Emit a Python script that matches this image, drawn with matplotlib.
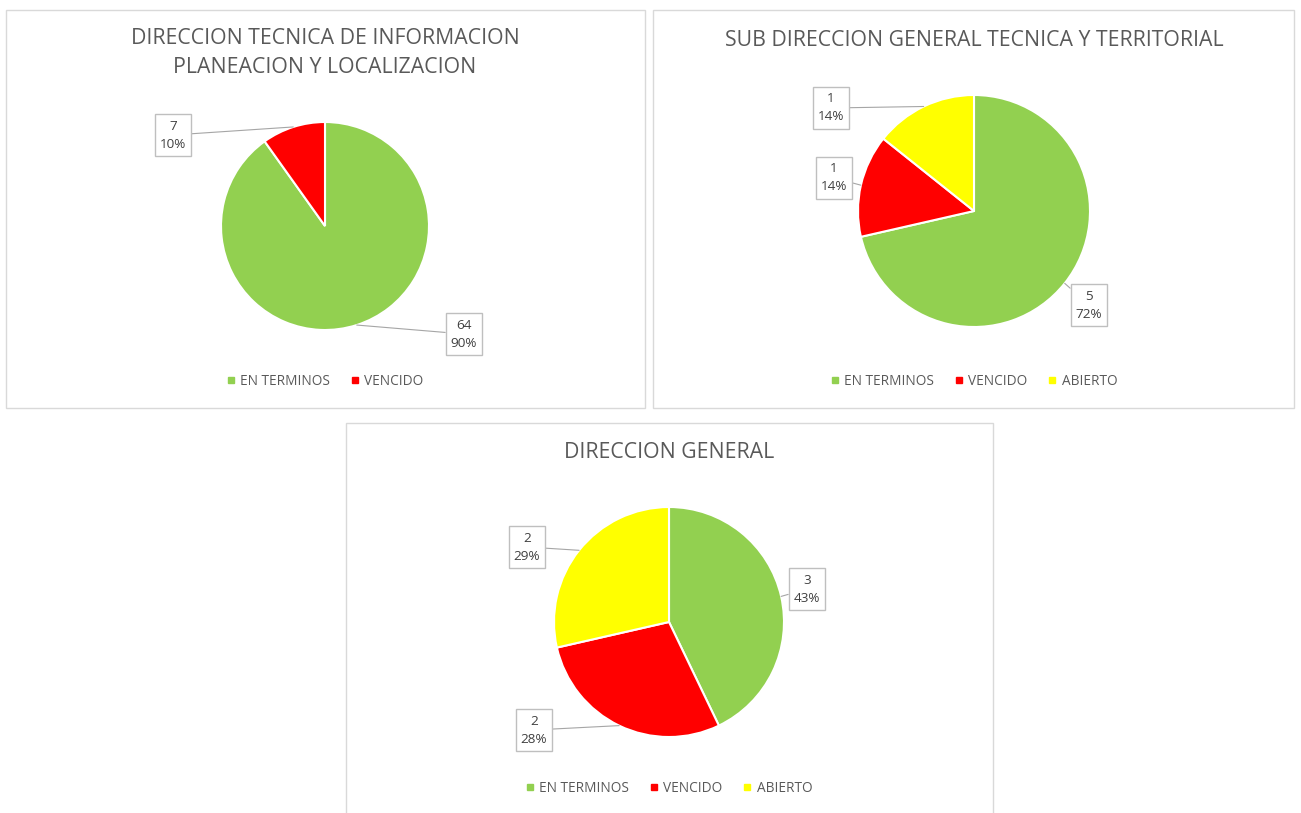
import matplotlib.pyplot as plt
import numpy as np
from matplotlib.patches import Rectangle
from matplotlib.lines import Line2D

W, H = 1301, 813

categories = ['EN TERMINOS', 'VENCIDO', 'ABIERTO']
colors = ['#92D050', '#FF0000', '#FFFF00']

titles = ['DIRECCION TECNICA DE INFORMACION\nPLANEACION Y LOCALIZACION',
          'SUB DIRECCION GENERAL TECNICA Y TERRITORIAL',
          'DIRECCION GENERAL']
values_1 = [64, 7]
values_2 = [5, 1, 1]
values_3 = [3, 2, 2]
pct_1 = ['90%', '10%']
pct_2 = ['72%', '14%', '14%']
pct_3 = ['43%', '28%', '29%']

plt.rcParams['font.family'] = ['Liberation Sans Narrow', 'Open Sans', 'DejaVu Sans']

fig = plt.figure(figsize=(W / 100, H / 100), dpi=100)
fig.patch.set_facecolor('white')


def fx(x):
    return x / W


def fy(y):
    return 1 - y / H


# panel frames (pixel boxes: left, top, right, bottom)
panels = [(6, 10, 645, 408), (653, 10, 1294, 408), (346, 423, 993, 814)]
for l, t, r, b in panels:
    fig.patches.append(Rectangle((fx(l), fy(b)), fx(r - l), (b - t) / H,
                                 transform=fig.transFigure, fill=False,
                                 edgecolor='#D9D9D9', lw=1))

# layout: pie centre / radius, title y, legend y, label box centres
layouts = [
    dict(c=(325, 226), r=104, ty=53, ly=381, boxes=[(464, 334), (173, 135)]),
    dict(c=(974, 211), r=116, ty=40, ly=381, boxes=[(1089, 305), (834, 178), (831, 108)]),
    dict(c=(669, 622), r=115, ty=452, ly=788, boxes=[(807, 589), (534, 730), (527, 547)]),
]
all_values = [values_1, values_2, values_3]
all_pct = [pct_1, pct_2, pct_3]

for k in range(3):
    lay = layouts[k]
    vals = all_values[k]
    cx, cy = lay['c']
    r = lay['r']
    ax = fig.add_axes([fx(cx - r), fy(cy + r), 2 * r / W, 2 * r / H])
    wedges, _ = ax.pie(vals, colors=colors[:len(vals)], startangle=90,
                       counterclock=False, radius=1,
                       wedgeprops=dict(edgecolor='white', linewidth=1.5))
    ax.set_xlim(-1, 1)
    ax.set_ylim(-1, 1)
    for i, w in enumerate(wedges):
        ang = np.deg2rad((w.theta1 + w.theta2) / 2)
        bx, by = lay['boxes'][i]
        ax.annotate('%d\n%s' % (vals[i], all_pct[k][i]),
                    xy=(np.cos(ang), np.sin(ang)), xycoords='data',
                    xytext=(fx(bx), fy(by)), textcoords='figure fraction',
                    ha='center', va='center', fontsize=9.7, color='#404040',
                    linespacing=1.5, annotation_clip=False,
                    bbox=dict(boxstyle='square,pad=0.38', fc='white', ec='#BFBFBF', lw=1),
                    arrowprops=dict(arrowstyle='-', color='#A6A6A6', lw=0.8,
                                    shrinkA=0, shrinkB=0))
    fig.text(fx(cx), fy(lay['ty']), titles[k], ha='center', va='center',
             fontsize=15.3, color='#595959', linespacing=1.55)
    handles = [Line2D([], [], marker='s', ls='none', color=colors[i], markersize=5)
               for i in range(len(vals))]
    fig.legend(handles, categories[:len(vals)], loc='center',
               bbox_to_anchor=(fx(cx), fy(lay['ly'])),
               ncol=len(vals), frameon=False, fontsize=9.8, labelcolor='#595959',
               handlelength=0.6, handletextpad=0.4, columnspacing=1.5)

fig.savefig('out.png', dpi=100)
